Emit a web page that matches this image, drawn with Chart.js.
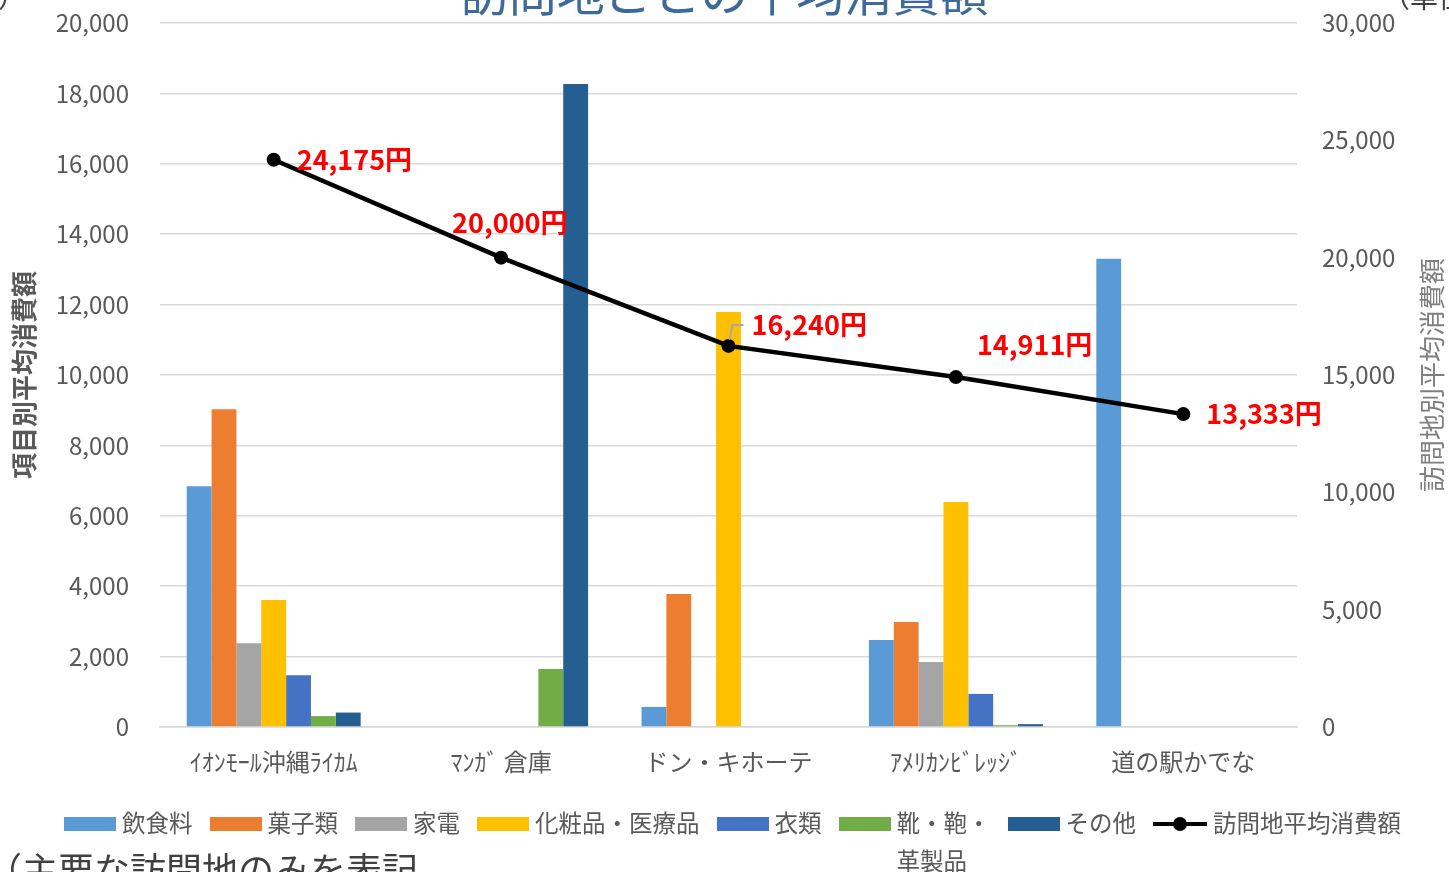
<!DOCTYPE html>
<html lang="ja">
<head>
<meta charset="utf-8">
<title>訪問地ごとの平均消費額</title>
<script src="https://cdn.jsdelivr.net/npm/chart.js@4.4.1/dist/chart.umd.min.js"></script>
<style>
    html, body {
        margin: 0;
        padding: 0;
        background: #ffffff;
        overflow: hidden;
        font-family: "Noto Sans CJK JP", "Noto Sans", sans-serif;
    }
    #wrap {
        position: relative;
        width: 1449px;
        height: 872px;
        overflow: hidden;
    }
    #chart {
        position: absolute;
        left: 0;
        top: 0;
    }
    .note {
        position: absolute;
        white-space: nowrap;
        line-height: 1;
    }
    #title {
        left: 0;
        width: 1449px;
        text-align: center;
        top: -34px;
        font-size: 48px;
        color: #3e6a9a;
    }
    #unitLeft {
        left: -142px;
        top: -18px;
        font-size: 28px;
        color: #404040;
    }
    #unitRight {
        left: 1382px;
        top: -18px;
        font-size: 28px;
        color: #404040;
    }
    #footnote {
        left: -14px;
        top: 850px;
        font-size: 36px;
        color: #404040;
    }
    #legend {
        position: absolute;
        left: 64px;
        top: 806px;
        display: flex;
        align-items: flex-start;
        gap: 17px;
        font-size: 23.5px;
        color: #595959;
    }
    .item {
        display: flex;
        align-items: flex-start;
    }
    .swatch {
        width: 52px;
        height: 14px;
        margin-top: 11px;
        margin-right: 6px;
    }
    .lineSwatch {
        position: relative;
        width: 54px;
        height: 14px;
        margin-top: 11px;
        margin-right: 6px;
    }
    .lineSwatch::before {
        content: "";
        position: absolute;
        left: 0;
        right: 0;
        top: 5px;
        height: 4px;
        background: #000;
    }
    .lineSwatch::after {
        content: "";
        position: absolute;
        left: 20px;
        top: 0;
        width: 14px;
        height: 14px;
        border-radius: 50%;
        background: #000;
    }
    .label {
        line-height: 32px;
    }
    .label.wrap {
        line-height: 38px;
        margin-top: -3px;
    }
</style>
</head>
<body>
<div id="wrap">
    <canvas id="chart" width="1449" height="872"></canvas>
    <div id="title" class="note">訪問地ごとの平均消費額</div>
    <div id="unitLeft" class="note">（単位：円）</div>
    <div id="unitRight" class="note">（単位：円）</div>
    <div id="footnote" class="note">（主要な訪問地のみを表記</div>
    <div id="legend"></div>
</div>
<script>
// 訪問地 (categories)
const categories = ['ｲｵﾝﾓｰﾙ沖縄ﾗｲｶﾑ', 'ﾏﾝｶﾞ 倉庫', 'ドン・キホーテ', 'ｱﾒﾘｶﾝﾋﾞﾚｯｼﾞ', '道の駅かでな'];

// 項目別平均消費額 (left axis, 円)
const food = [6840, null, 570, 2470, 13300];
const sweets = [9030, null, 3780, 2980, null];
const appliances = [2380, null, null, 1850, null];
const cosmetics = [3610, null, 11790, 6390, null];
const clothing = [1470, null, null, 940, null];
const shoes = [310, 1650, null, 50, null];
const others = [410, 18270, null, 80, null];

// 訪問地平均消費額 (right axis, 円)
const avgSpend = [24175, 20000, 16240, 14911, 13333];

// tick settings
const leftTicks = { min: 0, max: 20000, step: 2000 };
const rightTicks = { min: 0, max: 30000, step: 5000 };

const FONT = '"Noto Sans CJK JP", "Noto Sans", sans-serif';
const GREY = '#595959';

const barSeries = [
    { label: '飲食料', data: food, color: '#5b9bd5' },
    { label: '菓子類', data: sweets, color: '#ed7d31' },
    { label: '家電', data: appliances, color: '#a5a5a5' },
    { label: '化粧品・医療品', data: cosmetics, color: '#ffc000' },
    { label: '衣類', data: clothing, color: '#4472c4' },
    { label: '靴・鞄・革製品', legend: ['靴・鞄・', '革製品'], data: shoes, color: '#70ad47' },
    { label: 'その他', data: others, color: '#255e91' }
];

// label offsets from each line point (dx, dy) and whether a leader line is drawn
const labelOffsets = [
    { dx: 23, dy: 0 },
    { dx: -49, dy: -35 },
    { dx: 23, dy: -21, leader: true },
    { dx: 21, dy: -32 },
    { dx: 23, dy: 0 }
];

const fmt = v => v.toLocaleString('en-US');

// keep the plot area pinned: fixed axis size, small label overflow
function pinAxis(size) {
    return scale => {
        if (scale.isHorizontal()) {
            scale.height = size;
        } else {
            scale.width = size;
            scale.paddingTop = 12;
            scale.paddingBottom = 12;
        }
    };
}

// draw the red value labels on the average line and the right axis title
const lineLabels = {
    id: 'lineLabels',
    afterDatasetsDraw(chart) {
        const ctx = chart.ctx;
        const idx = chart.data.datasets.findIndex(d => d.type === 'line');
        const meta = chart.getDatasetMeta(idx);
        ctx.save();
        meta.data.forEach((pt, i) => {
            const off = labelOffsets[i];
            if (off.leader) {
                ctx.strokeStyle = '#a6a6a6';
                ctx.lineWidth = 2;
                ctx.beginPath();
                ctx.moveTo(pt.x + 1, pt.y - 6);
                ctx.lineTo(pt.x + 4, pt.y - 21);
                ctx.lineTo(pt.x + 15, pt.y - 21);
                ctx.stroke();
            }
            ctx.font = 'bold 27px ' + FONT;
            ctx.fillStyle = '#ff0000';
            ctx.textAlign = 'left';
            ctx.textBaseline = 'middle';
            ctx.fillText(fmt(avgSpend[i]) + '円', pt.x + off.dx, pt.y + off.dy);
        });
        ctx.restore();
    },
    afterDraw(chart) {
        const ctx = chart.ctx;
        const area = chart.chartArea;
        ctx.save();
        ctx.translate(1432, (area.top + area.bottom) / 2);
        ctx.rotate(-Math.PI / 2);
        ctx.font = '26px ' + FONT;
        ctx.fillStyle = '#7f7f7f';
        ctx.textAlign = 'center';
        ctx.textBaseline = 'middle';
        ctx.fillText('訪問地別平均消費額', 0, 0);
        ctx.restore();
    }
};

const datasets = barSeries.map(s => ({
    type: 'bar',
    label: s.label,
    data: s.data,
    backgroundColor: s.color,
    borderWidth: 0,
    categoryPercentage: 0.765,
    barPercentage: 1.0,
    yAxisID: 'y',
    order: 2
}));

datasets.push({
    type: 'line',
    label: '訪問地平均消費額',
    data: avgSpend,
    borderColor: '#000000',
    backgroundColor: '#000000',
    borderWidth: 4.5,
    pointRadius: 7,
    pointBackgroundColor: '#000000',
    pointBorderWidth: 0,
    tension: 0,
    yAxisID: 'y1',
    order: 1
});

const ctx = document.getElementById('chart').getContext('2d');
const chart = new Chart(ctx, {
    data: {
        labels: categories,
        datasets: datasets
    },
    options: {
        responsive: false,
        animation: false,
        layout: {
            padding: { top: 23, left: 0, right: 0, bottom: 0 }
        },
        plugins: {
            legend: { display: false },
            tooltip: { enabled: false }
        },
        scales: {
            x: {
                grid: { display: false },
                border: { display: true, color: '#d9d9d9', width: 1.5 },
                ticks: {
                    color: GREY,
                    font: { family: FONT, size: 24 },
                    padding: 12,
                    maxRotation: 0,
                    autoSkip: false
                },
                afterFit: pinAxis(145)
            },
            y: {
                position: 'left',
                min: leftTicks.min,
                max: leftTicks.max,
                border: { display: false },
                grid: { color: '#d9d9d9', lineWidth: 1.5, drawTicks: false },
                ticks: {
                    stepSize: leftTicks.step,
                    color: GREY,
                    font: { family: FONT, size: 24 },
                    padding: 31,
                    callback: v => fmt(v)
                },
                title: {
                    display: true,
                    text: '項目別平均消費額',
                    color: GREY,
                    font: { family: FONT, size: 26, weight: 'bold' },
                    padding: { top: 9, bottom: 0 }
                },
                afterFit: pinAxis(160)
            },
            y1: {
                position: 'right',
                min: rightTicks.min,
                max: rightTicks.max,
                border: { display: false },
                grid: { display: false, drawTicks: false },
                ticks: {
                    stepSize: rightTicks.step,
                    color: GREY,
                    font: { family: FONT, size: 24 },
                    padding: 25,
                    callback: v => fmt(v)
                },
                afterFit: pinAxis(152)
            }
        }
    },
    plugins: [lineLabels]
});

// html legend at the bottom
const legendBox = document.getElementById('legend');
legendBox.innerHTML = barSeries.map(s => {
    const text = s.legend ? s.legend.join('<br>') : s.label;
    const cls = s.legend ? 'label wrap' : 'label';
    return `<div class="item"><div class="swatch" style="background:${s.color}"></div><div class="${cls}">${text}</div></div>`;
}).join('') + `<div class="item"><div class="lineSwatch"></div><div class="label">訪問地平均消費額</div></div>`;
</script>
</body>
</html>
